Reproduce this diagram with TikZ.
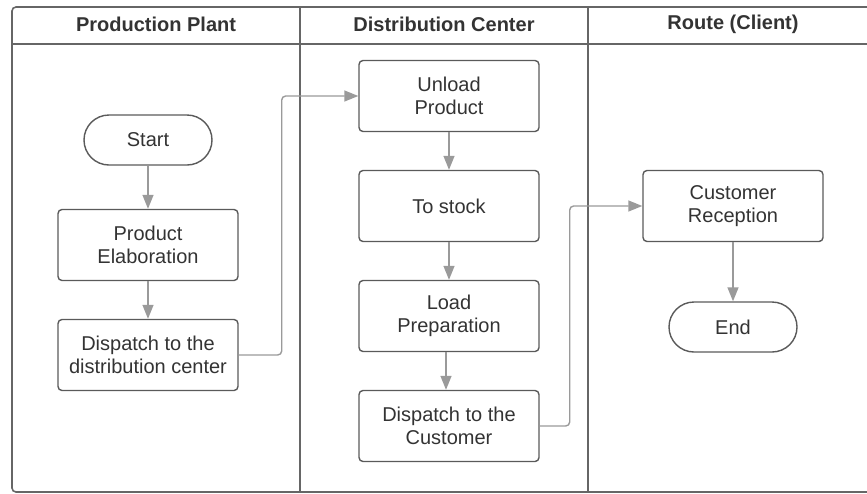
\documentclass[tikz,border=0pt]{standalone}
\usepackage{fontspec}
\setmainfont{Liberation Sans}
\usetikzlibrary{arrows.meta}
\definecolor{lanegray}{HTML}{666666}
\definecolor{boxgray}{HTML}{5A5A5A}
\definecolor{flowgray}{HTML}{9A9A9A}
\definecolor{textgray}{HTML}{333333}
\tikzset{
  lane/.style={draw=lanegray,line width=1.6pt},
  lanehead/.style={text=textgray,font=\fontsize{20pt}{23pt}\selectfont\bfseries},
  box/.style={draw=boxgray,line width=1.4pt,rounded corners=4pt,minimum width=180pt,minimum height=71pt,align=center,text=textgray,font=\fontsize{20pt}{23pt}\selectfont,inner sep=0pt},
  term/.style={box,rounded corners=25pt,minimum width=128pt,minimum height=50pt},
  flow/.style={draw=flowgray,line width=1.4pt,-{Triangle[length=14pt,width=11pt]}},
  link/.style={flow,rounded corners=4pt}
}
\begin{document}
\begin{tikzpicture}[x=1pt,y=-1pt]
\useasboundingbox (0,0) rectangle (867,493);
\draw [lane,rounded corners=4pt] (867,7) -- (12,7) -- (12,492) -- (867,492);
\draw [lane] (12,44) -- (867,44);
\draw [lane] (300,7) -- (300,492);
\draw [lane] (588,7) -- (588,492);
\node (hplant) at (156,24) [lanehead] {Production Plant};
\node (hdist) at (444,24) [lanehead] {Distribution Center};
\node (hroute) at (733,24) [lanehead] {Route (Client)};

\node (start) at (148,140) [term] {Start};
\node (elab) at (148,245) [box] {Product\\Elaboration};
\node (dispdc) at (148,355) [box] {Dispatch to the\\distribution center};
\node (unload) at (449,96) [box] {Unload\\Product};
\node (stock) at (449,206) [box] {To stock};
\node (loadprep) at (449,316) [box] {Load\\Preparation};
\node (dispcu) at (449,426) [box] {Dispatch to the\\Customer};
\node (recep) at (733,206) [box] {Customer\\Reception};
\node (end) at (733,327) [term] {End};

\draw [flow] (start) -- (elab);
\draw [flow] (elab) -- (dispdc);
\draw [link] (dispdc.east) -- ++(43,0) |- (unload.west);
\draw [flow] (unload) -- (stock);
\draw [flow] (stock) -- (loadprep);
\draw [flow] ([xshift=-3pt]loadprep.south) -- ([xshift=-3pt]dispcu.north);
\draw [link] (dispcu.east) -- ++(30,0) |- (recep.west);
\draw [flow] (recep) -- (end);
\end{tikzpicture}
\end{document}
